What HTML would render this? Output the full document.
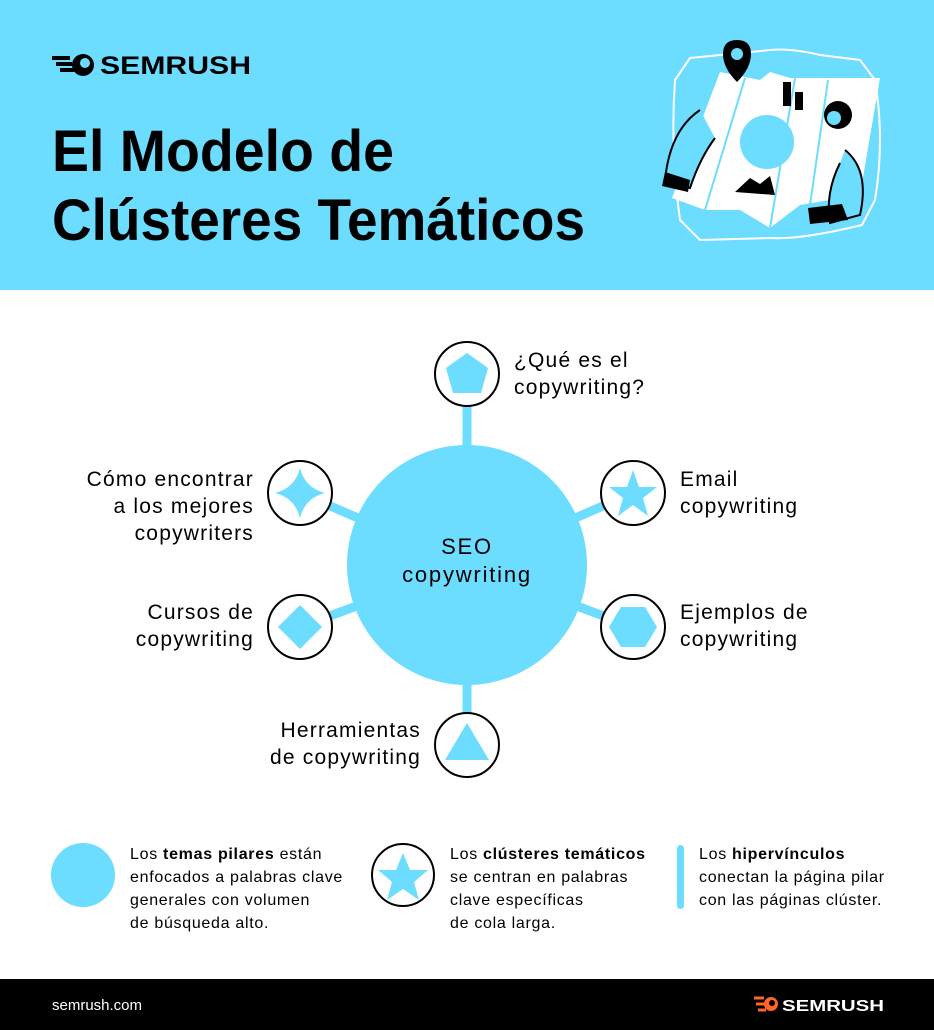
<!DOCTYPE html>
<html><head><meta charset="utf-8"><style>
html,body{margin:0;padding:0;background:#fff}
svg{display:block}
text{font-family:"Liberation Sans",sans-serif;fill:#000}
</style></head><body>
<svg width="934" height="1030" viewBox="0 0 934 1030" xmlns="http://www.w3.org/2000/svg">
<rect x="0" y="0" width="934" height="290" fill="#6cdcff"/>
<g>
<path d="M52 58 L70 58 M56 64 L72 64 M60 70 L74 70" stroke="#000" stroke-width="4"/>
<circle cx="83" cy="65" r="11" fill="#000"/>
<circle cx="85" cy="63" r="5" fill="#6cdcff"/>
<text x="100" y="74" font-size="25" font-weight="bold" textLength="151" lengthAdjust="spacingAndGlyphs">SEMRUSH</text>
</g>
<text x="52" y="171" font-size="58" font-weight="bold" textLength="342" lengthAdjust="spacingAndGlyphs">El Modelo de</text>
<text x="52" y="240" font-size="58" font-weight="bold" textLength="533" lengthAdjust="spacingAndGlyphs">Clústeres Temáticos</text>
<g>
<path d="M690 58 L770 50 Q790 48 820 55 L860 60 L875 80 Q885 140 875 200 L862 225 Q800 240 770 238 L700 240 L680 220 Q670 150 675 80 Z" fill="none" stroke="#fff" stroke-width="2"/>
<polygon points="720,72 760,80 770,72 790,78 880,78 860,195 800,205 770,228 740,210 705,210 672,198" fill="#fff"/>
<line x1="745" y1="78" x2="705" y2="210" stroke="#6cdcff" stroke-width="2"/>
<line x1="795" y1="78" x2="770" y2="228" stroke="#6cdcff" stroke-width="2"/>
<line x1="828" y1="80" x2="810" y2="205" stroke="#6cdcff" stroke-width="2"/>
<circle cx="767" cy="142" r="27" fill="#6cdcff"/>
<rect x="783" y="82" width="8" height="24" fill="#000"/>
<rect x="795" y="92" width="8" height="18" fill="#000"/>
<circle cx="838" cy="115" r="14" fill="#000"/>
<circle cx="834" cy="118" r="7" fill="#6cdcff"/>
<polygon points="735,192 750,178 760,184 770,176 775,195" fill="#000"/>
<path d="M737 40 q-14 0 -14 14 q0 14 14 28 q14 -14 14 -28 q0 -14 -14 -14z" fill="#000"/>
<circle cx="737" cy="54" r="6" fill="#6cdcff"/>
<path d="M700 110 q-30 20 -35 70 l25 8 q10 -30 25 -50" fill="#6cdcff" stroke="#000" stroke-width="2"/>
<path d="M665 172 l25 8 l-2 12 l-26 -6z" fill="#000"/>
<path d="M845 150 q25 20 15 65 l-30 8 q-5 -30 10 -60" fill="#6cdcff" stroke="#000" stroke-width="2"/>
<path d="M808 208 l34 -4 l6 16 l-38 4z" fill="#000"/>
</g>
<g stroke="#6cdcff" stroke-width="9">
<line x1="467" y1="565" x2="467" y2="375"/>
<line x1="467" y1="565" x2="467" y2="745"/>
<line x1="467" y1="565" x2="300" y2="493"/>
<line x1="467" y1="565" x2="633" y2="493"/>
<line x1="467" y1="565" x2="300" y2="627"/>
<line x1="467" y1="565" x2="633" y2="627"/>
</g>
<circle cx="467" cy="565" r="120" fill="#6cdcff"/>
<text x="467" y="554" font-size="22" letter-spacing="1.8" text-anchor="middle">SEO</text>
<text x="467" y="582" font-size="22" letter-spacing="1.8" text-anchor="middle">copywriting</text>
<g fill="#fff" stroke="#000" stroke-width="2">
<circle cx="467" cy="374" r="32"/>
<circle cx="633" cy="493" r="32"/>
<circle cx="633" cy="627" r="32"/>
<circle cx="467" cy="745" r="32"/>
<circle cx="300" cy="627" r="32"/>
<circle cx="300" cy="493" r="32"/>
</g>
<g fill="#6cdcff">
<polygon points="467,353 488,368 481,393 453,393 446,368"/>
<polygon points="633,470 639,487 657,487 643,498 648,516 633,505 618,516 623,498 609,487 627,487"/>
<polygon points="621,607 645,607 657,627 645,647 621,647 609,627"/>
<polygon points="467,723 489,760 445,760"/>
<polygon points="300,605 322,627 300,649 278,627"/>
<path d="M300 468 Q305 488 325 493 Q305 498 300 518 Q295 498 275 493 Q295 488 300 468Z"/>
</g>
<g font-size="21" letter-spacing="1.2">
<text x="514" y="367">¿Qué es el</text>
<text x="514" y="394">copywriting?</text>
<text x="680" y="486">Email</text>
<text x="680" y="513">copywriting</text>
<text x="680" y="619">Ejemplos de</text>
<text x="680" y="646">copywriting</text>
<text x="254" y="486" text-anchor="end">Cómo encontrar</text>
<text x="254" y="513" text-anchor="end">a los mejores</text>
<text x="254" y="540" text-anchor="end">copywriters</text>
<text x="254" y="619" text-anchor="end">Cursos de</text>
<text x="254" y="646" text-anchor="end">copywriting</text>
<text x="421" y="737" text-anchor="end">Herramientas</text>
<text x="421" y="764" text-anchor="end">de copywriting</text>
</g>
<circle cx="83" cy="875" r="32" fill="#6cdcff"/>
<circle cx="403" cy="875" r="31" fill="#fff" stroke="#000" stroke-width="2"/>
<polygon points="403,853 410,870 428,870 414,882 419,900 403,889 387,900 392,882 378,870 396,870" fill="#6cdcff"/>
<rect x="677" y="845" width="7" height="64" rx="3.5" fill="#6cdcff"/>
<g font-size="16" letter-spacing="0.7">
<text x="130" y="859">Los <tspan font-weight="bold">temas pilares</tspan> están</text>
<text x="130" y="882">enfocados a palabras clave</text>
<text x="130" y="905">generales con volumen</text>
<text x="130" y="928">de búsqueda alto.</text>
<text x="450" y="859">Los <tspan font-weight="bold">clústeres temáticos</tspan></text>
<text x="450" y="882">se centran en palabras</text>
<text x="450" y="905">clave específicas</text>
<text x="450" y="928">de cola larga.</text>
<text x="699" y="859">Los <tspan font-weight="bold">hipervínculos</tspan></text>
<text x="699" y="882">conectan la página pilar</text>
<text x="699" y="905">con las páginas clúster.</text>
</g>
<rect x="0" y="979" width="934" height="51" fill="#000"/>
<text x="52" y="1010" font-size="15" style="fill:#fff">semrush.com</text>
<path d="M754 998 h10 M756 1004 h10 M758 1010 h8" stroke="#ff642d" stroke-width="3"/>
<circle cx="771" cy="1004" r="7" fill="#ff642d"/>
<circle cx="772" cy="1003" r="3" fill="#000"/>
<text x="782" y="1011" font-size="16" font-weight="bold" style="fill:#fff" textLength="102" lengthAdjust="spacingAndGlyphs">SEMRUSH</text>
</svg>
</body></html>
